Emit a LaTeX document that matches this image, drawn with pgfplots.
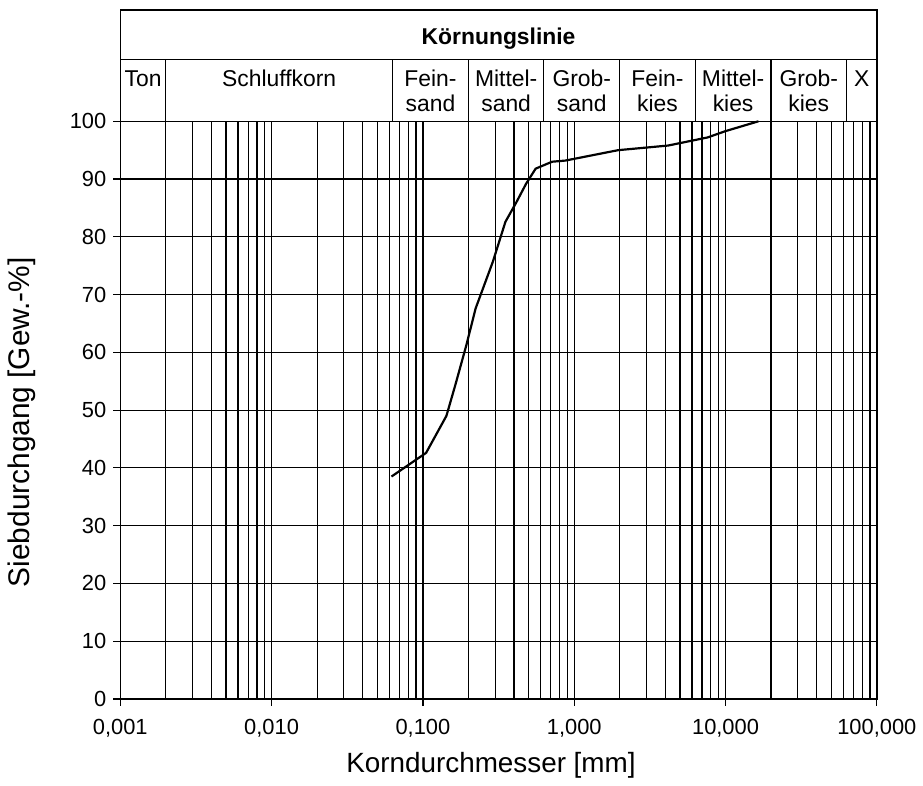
\documentclass[border=0pt]{standalone}
\usepackage{fontspec}
\setmainfont{Liberation Sans}
\usepackage{pgfplots}
\pgfplotsset{compat=1.18}
\begin{document}
\begin{tikzpicture}
\begin{axis}[
  scale only axis, width=380.5pt, height=290.5pt,
  xmode=log, log basis x=10,
  xmin=0.001, xmax=100, ymin=0, ymax=100,
  xtick={0.001,0.01,0.1,1,10,100},
  xticklabels={{0,001},{0,010},{0,100},{1,000},{10,000},{100,000}},
  minor xtick={0.002,0.003,0.004,0.005,0.006,0.007,0.008,0.009,
               0.02,0.03,0.04,0.05,0.06,0.07,0.08,0.09,
               0.2,0.3,0.4,0.5,0.6,0.7,0.8,0.9,
               2,3,4,5,6,7,8,9,
               20,30,40,50,60,70,80,90},
  ytick={0,10,20,30,40,50,60,70,80,90,100},
  xmajorgrids=true, xminorgrids=true, ymajorgrids=true,
  major grid style={black, line width=0.6pt},
  minor grid style={black, line width=0.6pt},
  axis line style={black, line width=0.7pt},
  tick style={black, line width=0.6pt},
  major tick length=3.5pt, minor tick length=0pt,
  tick align=outside, tick pos=left,
  ticklabel style={font=\fontsize{11}{13}\selectfont},
  xticklabel style={yshift=-3.3pt},
  /pgf/number format/assume math mode=true,
  xlabel={Korndurchmesser [mm]},
  ylabel={Siebdurchgang [Gew.-\%]},
  xlabel style={at={(axis description cs:0.49,-0.1153)}, anchor=center, font=\fontsize{14}{16}\selectfont},
  ylabel style={at={(axis description cs:-0.130,0.479)}, anchor=center, font=\fontsize{15}{17}\selectfont},
  clip=false,
]
\addplot[black, line width=1.1pt] coordinates {
  (0.062,38.5) (0.105,42.6) (0.143,49) (0.164,54.4) (0.194,61.3)
  (0.223,67.6) (0.29,75.7) (0.351,82.6) (0.415,86) (0.481,89.2)
  (0.556,91.8) (0.714,93) (0.874,93.2) (1.95,95) (4.17,95.8)
  (7.6,97.2) (10,98.3) (16.5,100)
};
% header table
\draw[line width=0.7pt] ([yshift=56pt]rel axis cs:0,1) rectangle (rel axis cs:1,1);
\draw[line width=0.6pt] ([yshift=31pt]rel axis cs:0,1) -- ([yshift=31pt]rel axis cs:1,1);
\draw[line width=0.6pt] (axis cs:0.002,100) -- ([yshift=31pt]axis cs:0.002,100);
\draw[line width=0.6pt] (axis cs:0.063,100) -- ([yshift=31pt]axis cs:0.063,100);
\draw[line width=0.6pt] (axis cs:0.2,100) -- ([yshift=31pt]axis cs:0.2,100);
\draw[line width=0.6pt] (axis cs:0.63,100) -- ([yshift=31pt]axis cs:0.63,100);
\draw[line width=0.6pt] (axis cs:2,100) -- ([yshift=31pt]axis cs:2,100);
\draw[line width=0.6pt] (axis cs:6.3,100) -- ([yshift=31pt]axis cs:6.3,100);
\draw[line width=0.6pt] (axis cs:20,100) -- ([yshift=31pt]axis cs:20,100);
\draw[line width=0.6pt] (axis cs:63,100) -- ([yshift=31pt]axis cs:63,100);
\node[anchor=base, inner sep=0pt, font=\bfseries\fontsize{11.5}{13}\selectfont] at ([yshift=38.5pt]rel axis cs:0.5,1) {Körnungslinie};
\tikzset{hd/.style={anchor=base, font=\fontsize{11.5}{13}\selectfont, inner sep=0pt}}
\node[hd] at ([yshift=17.65pt]axis cs:0.001414,100) {Ton};
\node[hd] at ([yshift=17.65pt]axis cs:0.01122,100) {Schluffkorn};
\node[hd] at ([yshift=17.65pt]axis cs:0.1122,100) {Fein-};
\node[hd] at ([yshift=5pt]axis cs:0.1122,100) {sand};
\node[hd] at ([yshift=17.65pt]axis cs:0.355,100) {Mittel-};
\node[hd] at ([yshift=5pt]axis cs:0.355,100) {sand};
\node[hd] at ([yshift=17.65pt]axis cs:1.122,100) {Grob-};
\node[hd] at ([yshift=5pt]axis cs:1.122,100) {sand};
\node[hd] at ([yshift=17.65pt]axis cs:3.55,100) {Fein-};
\node[hd] at ([yshift=5pt]axis cs:3.55,100) {kies};
\node[hd] at ([yshift=17.65pt]axis cs:11.22,100) {Mittel-};
\node[hd] at ([yshift=5pt]axis cs:11.22,100) {kies};
\node[hd] at ([yshift=17.65pt]axis cs:35.5,100) {Grob-};
\node[hd] at ([yshift=5pt]axis cs:35.5,100) {kies};
\node[hd] at ([yshift=17.65pt]axis cs:79.4,100) {X};
% bounding box
\path ([xshift=-60.5pt,yshift=-43pt]rel axis cs:0,0) rectangle ([xshift=20.5pt,yshift=61pt]rel axis cs:1,1);
\end{axis}
\end{tikzpicture}
\end{document}
